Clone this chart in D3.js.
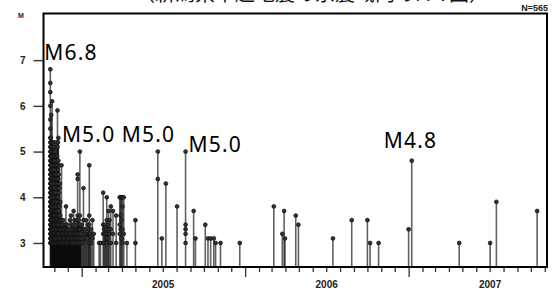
<!DOCTYPE html>
<html>
<head>
<meta charset="utf-8">
<script src="https://cdn.jsdelivr.net/npm/d3@7"></script>
<style>
  body { margin: 0; background: #fff; }
  svg { display: block; }
  .tick text { font-family: "Liberation Sans", Arial, sans-serif; font-weight: bold; }
</style>
</head>
<body>
<script>

// magnitude ticks on the left
var magTicks = [3, 4, 5, 6, 7];
var yearLabels = ["2005", "2006", "2007"];

// days with events (six per row, rows match eventMags below)
var eventDays = [
  "2004-10-23", "2004-10-24", "2004-10-25", "2004-10-26", "2004-10-27", "2004-10-28",
  "2004-10-29", "2004-10-30", "2004-10-31", "2004-11-01", "2004-11-02", "2004-11-03",
  "2004-11-04", "2004-11-05", "2004-11-06", "2004-11-07", "2004-11-08", "2004-11-09",
  "2004-11-10", "2004-11-11", "2004-11-12", "2004-11-13", "2004-11-14", "2004-11-15",
  "2004-11-16", "2004-11-17", "2004-11-18", "2004-11-19", "2004-11-20", "2004-11-21",
  "2004-11-22", "2004-11-23", "2004-11-24", "2004-11-25", "2004-11-26", "2004-11-27",
  "2004-11-28", "2004-11-29", "2004-11-30", "2004-12-01", "2004-12-02", "2004-12-03",
  "2004-12-04", "2004-12-05", "2004-12-06", "2004-12-07", "2004-12-08", "2004-12-09",
  "2004-12-10", "2004-12-11", "2004-12-12", "2004-12-13", "2004-12-14", "2004-12-15",
  "2004-12-16", "2004-12-17", "2004-12-18", "2004-12-19", "2004-12-20", "2004-12-21",
  "2004-12-22", "2004-12-23", "2004-12-24", "2004-12-25", "2004-12-26", "2004-12-27",
  "2004-12-28", "2004-12-29", "2004-12-30", "2005-01-01", "2005-01-03", "2005-01-05",
  "2005-01-07", "2005-01-09", "2005-01-11", "2005-01-13", "2005-01-15", "2005-01-17",
  "2005-01-18", "2005-01-20", "2005-01-22", "2005-01-25", "2005-01-28", "2005-02-09",
  "2005-02-12", "2005-02-18", "2005-02-20", "2005-02-22", "2005-02-24", "2005-02-26",
  "2005-02-28", "2005-03-02", "2005-03-04", "2005-03-07", "2005-03-12", "2005-03-19",
  "2005-03-27", "2005-03-29", "2005-03-31", "2005-04-02", "2005-04-05", "2005-04-12",
  "2005-05-01", "2005-06-20", "2005-06-29", "2005-07-08", "2005-08-02", "2005-08-21",
  "2005-09-08", "2005-09-12", "2005-10-04", "2005-10-10", "2005-10-16", "2005-10-23",
  "2005-10-27", "2005-11-07", "2005-12-20", "2006-03-06", "2006-03-25", "2006-03-29",
  "2006-03-31", "2006-04-24", "2006-04-30", "2006-07-16", "2006-08-27", "2006-10-01",
  "2006-10-07", "2006-10-26", "2007-01-01", "2007-01-08", "2007-04-24", "2007-07-02",
  "2007-07-16", "2007-10-15"
];

// magnitudes recorded on each of those days
var eventMags = [
  [6.8, 6.5, 6.3, 6.0, 5.7, 5.5, 5.3, 5.2, 5.1, 5.0, 4.9, 4.8, 4.7, 4.6, 4.5, 4.4, 4.3, 4.2, 4.1, 4.0, 3.9, 3.8, 3.7, 3.6, 3.5, 3.4, 3.3, 3.2, 3.1, 3.0],
  [5.3, 5.1, 4.9, 4.8, 4.6, 4.5, 4.3, 4.2, 4.1, 3.9, 3.8, 3.7, 3.5, 3.4, 3.3, 3.2, 3.1, 3.0],
  [5.8, 5.2, 5.0, 4.9, 4.7, 4.6, 4.4, 4.3, 4.1, 4.0, 3.9, 3.8, 3.6, 3.5, 3.4, 3.3, 3.2, 3.1, 3.0],
  [5.1, 5.0, 4.8, 4.6, 4.4, 4.2, 4.0, 3.9, 3.7, 3.6, 3.4, 3.3, 3.2, 3.1, 3.0],
  [6.1, 5.2, 4.9, 4.7, 4.5, 4.3, 4.2, 4.0, 3.8, 3.7, 3.5, 3.4, 3.2, 3.1, 3.0],
  [5.2, 5.0, 4.8, 4.5, 4.3, 4.1, 3.9, 3.8, 3.6, 3.5, 3.3, 3.2, 3.0],

  [5.1, 4.9, 4.6, 4.4, 4.1, 3.9, 3.7, 3.6, 3.4, 3.3, 3.1, 3.0],
  [5.2, 4.8, 4.5, 4.2, 4.0, 3.8, 3.6, 3.5, 3.3, 3.1, 3.0],
  [5.0, 4.7, 4.4, 4.1, 3.9, 3.7, 3.5, 3.4, 3.2, 3.0],
  [5.1, 4.8, 4.5, 4.2, 3.9, 3.7, 3.6, 3.4, 3.2, 3.1],
  [4.9, 4.6, 4.3, 4.0, 3.8, 3.6, 3.4, 3.3, 3.1, 3.0],
  [5.0, 4.7, 4.4, 4.1, 3.8, 3.5, 3.3, 3.2, 3.0],

  [5.2, 4.9, 4.5, 4.2, 3.9, 3.7, 3.5, 3.3, 3.1],
  [4.8, 4.5, 4.1, 3.8, 3.6, 3.4, 3.2, 3.0],
  [5.1, 4.7, 4.3, 4.0, 3.7, 3.5, 3.3, 3.1],
  [4.9, 4.4, 4.0, 3.7, 3.4, 3.2, 3.0],
  [5.9, 5.1, 4.7, 4.3, 3.9, 3.6, 3.4, 3.2, 3.0],
  [5.2, 4.6, 4.2, 3.8, 3.5, 3.3, 3.1],

  [5.3, 4.8, 4.4, 4.0, 3.6, 3.4, 3.2, 3.0],
  [4.5, 4.1, 3.7, 3.4, 3.2, 3.0],
  [4.7, 4.2, 3.8, 3.5, 3.3, 3.1],
  [4.3, 3.9, 3.6, 3.3, 3.0],
  [3.9, 3.6, 3.3, 3.1],
  [3.5, 3.3, 3.0],

  [3.4, 3.2, 3.0], [4.7, 3.5, 3.2, 3.0], [3.3, 3.1], [3.4, 3.2, 3.0], [3.2, 3.0], [3.5, 3.3, 3.1],
  [3.3, 3.0], [3.1], [3.4, 3.2], [3.2, 3.0], [3.3, 3.1], [3.8, 3.4, 3.2, 3.0],
  [3.3, 3.1], [3.2, 3.0], [3.4, 3.1], [3.3, 3.0], [3.2], [3.3, 3.1],
  [3.1], [3.2, 3.0], [3.5, 3.2, 3.0], [3.3, 3.0], [3.6, 3.1], [3.2, 3.0],
  [3.4, 3.1], [3.0], [3.3, 3.1], [3.2], [3.7, 3.4, 3.2, 3.0], [3.3, 3.1],
  [3.5, 3.2], [3.2, 3.0], [3.3], [3.1], [3.5, 3.3, 3.1], [3.2, 3.0],
  [3.4, 3.1], [4.5, 4.4, 3.6, 3.3, 3.0], [3.2], [3.5, 3.3, 3.1], [3.0], [3.4, 3.2],
  [5.0, 3.6, 3.3, 3.1], [3.3, 3.0], [3.2], [3.4, 3.1], [3.3, 3.0], [4.2, 3.5, 3.3, 3.0],
  [3.2], [3.3, 3.1], [3.5, 3.2], [3.1], [3.4, 3.2], [3.3],
  [4.7, 3.6, 3.4, 3.2, 3.0], [3.2], [3.3, 3.0], [3.5, 3.1], [3.2], [3.0],
  [3.0], [4.1, 3.4, 3.2, 3.0], [3.3, 3.0], [3.4, 3.2], [3.3, 3.1], [4.0, 3.5, 3.2, 3.0],
  [3.4, 3.1], [3.7, 3.3], [3.5, 3.2], [3.8, 3.3, 3.0], [3.7, 3.2], [3.6, 3.0],
  [4.0, 3.4, 3.2], [4.0, 3.6, 3.3], [4.0, 3.5, 3.1], [4.0, 3.8, 3.3, 3.0], [4.0, 3.2], [3.0],
  [3.5, 3.0], [5.0, 4.4], [3.1], [4.3], [3.8], [5.0, 3.4, 3.3, 3.2, 3.0],
  [3.7], [3.1], [3.4], [3.1], [3.1], [3.1],
  [3.0], [3.0], [3.0], [3.8], [3.2], [3.7],
  [3.1], [3.6], [3.4], [3.1], [3.5], [3.5],
  [3.0], [3.0], [3.3], [4.8], [3.0], [3.0],
  [3.9], [3.7]
];

// labelled events: text, day, magnitude, and a nudge for the label
var noteText = ["M6.8", "M5.0", "M5.0", "M5.0", "M4.8"];
var noteDays = ["2004-10-23", "2004-12-28", "2005-06-20", "2005-08-21", "2007-01-08"];
var noteMags = [6.8, 5.0, 5.0, 5.0, 4.8];
var noteNudge = [[-6, -9], [-18, -10], [-36, -10], [3, 0], [-28, -13]];

var totalCount = "N=565";
var title = "（新潟県中越地震の余震域内のM-T図）";

var width = 554,
    height = 289;

var parseDay = d3.timeParse("%Y-%m-%d");

var svg = d3.select("body").append("svg")
    .attr("width", width)
    .attr("height", height);

var x = d3.scaleTime()
    .domain([parseDay("2004-10-08"), parseDay("2007-11-06")])
    .range([43.6, 547]);

var y = d3.scaleLinear()
    .domain([2.475, 8.02])
    .range([267, 13.5]);

var days = eventDays.map(function(d, i) {
  return { date: parseDay(d), mags: eventMags[i] || [] };
}).filter(function(d) { return d.mags.length > 0; });

// stems, one per day, up to that day's largest event
svg.append("g")
  .selectAll("line")
  .data(days)
  .enter()
  .append("line")
  .attr("x1", function(d) { return x(d.date); })
  .attr("x2", function(d) { return x(d.date); })
  .attr("y1", y(2.475))
  .attr("y2", function(d) { return y(d3.max(d.mags)); })
  .attr("stroke", "#000")
  .attr("stroke-opacity", 0.62)
  .attr("stroke-width", 1.6);

// a small bead for every event
var beads = [];
days.forEach(function(d) {
  d.mags.forEach(function(m) { beads.push({ date: d.date, mag: m }); });
});

svg.append("g")
  .selectAll("circle")
  .data(beads)
  .enter()
  .append("circle")
  .attr("cx", function(d) { return x(d.date); })
  .attr("cy", function(d) { return y(d.mag); })
  .attr("r", 1.9)
  .attr("fill", "#333")
  .attr("stroke", "#111")
  .attr("stroke-width", 0.8);

// left axis
var yAxis = d3.axisLeft(y)
    .tickValues(magTicks)
    .tickSize(10)
    .tickPadding(8)
    .tickFormat(d3.format("d"));

var yg = svg.append("g")
    .attr("transform", "translate(43.5,0)")
    .call(yAxis);
yg.select(".domain").remove();
yg.selectAll("line").attr("stroke", "#333").attr("stroke-width", 1.4);
yg.selectAll("text").attr("font-size", 10).attr("fill", "#222");

// bottom axis: month ticks and longer year ticks
var months = d3.timeMonth.range(parseDay("2004-11-01"), parseDay("2007-11-06"))
    .filter(function(d) { return d.getMonth() != 0; });
var years = d3.timeYear.range(parseDay("2005-01-01"), parseDay("2007-11-06"));

var xMinor = svg.append("g")
    .attr("transform", "translate(0,267)")
    .call(d3.axisBottom(x).tickValues(months).tickSize(5).tickFormat(""));
var xMajor = svg.append("g")
    .attr("transform", "translate(0,267)")
    .call(d3.axisBottom(x).tickValues(years).tickSize(10).tickFormat(""));
svg.selectAll(".domain").remove();
xMinor.selectAll("line").attr("stroke", "#333").attr("stroke-width", 1.3);
xMajor.selectAll("line").attr("stroke", "#333").attr("stroke-width", 1.3);

svg.append("g")
  .selectAll("text")
  .data(yearLabels)
  .enter()
  .append("text")
  .attr("x", function(d) { return x(parseDay(d + "-07-02")); })
  .attr("y", 288)
  .attr("text-anchor", "middle")
  .attr("font-family", "Liberation Sans, Arial, sans-serif")
  .attr("font-weight", "bold")
  .attr("font-size", 10)
  .attr("fill", "#222")
  .text(function(d) { return d; });

// frame
svg.append("rect")
  .attr("x", 43.5)
  .attr("y", 13.5)
  .attr("width", 547 - 43.5)
  .attr("height", 267 - 13.5)
  .attr("fill", "none")
  .attr("stroke", "#000")
  .attr("stroke-width", 2);

// "M" unit, count and title (the title runs off the top, as in the source)
svg.append("text")
  .attr("x", 21).attr("y", 18)
  .attr("text-anchor", "middle")
  .attr("font-family", "Liberation Sans, Arial, sans-serif")
  .attr("font-weight", "bold")
  .attr("font-size", 7)
  .attr("fill", "#222")
  .text("M");

svg.append("text")
  .attr("x", 548).attr("y", 11)
  .attr("text-anchor", "end")
  .attr("font-family", "Liberation Sans, Arial, sans-serif")
  .attr("font-weight", "bold")
  .attr("font-size", 9)
  .attr("fill", "#222")
  .text(totalCount);

svg.append("text")
  .attr("x", 312).attr("y", 1)
  .attr("text-anchor", "middle")
  .attr("font-family", "Noto Sans CJK JP")
  .attr("font-size", 20)
  .attr("fill", "#111")
  .text(title);

// magnitude notes
svg.append("g")
  .selectAll("text")
  .data(noteText)
  .enter()
  .append("text")
  .attr("x", function(d, i) { return x(parseDay(noteDays[i])) + noteNudge[i][0]; })
  .attr("y", function(d, i) { return y(noteMags[i]) + noteNudge[i][1]; })
  .attr("font-family", "Noto Sans, sans-serif")
  .attr("font-size", 21)
  .attr("letter-spacing", 1.2)
  .attr("fill", "#000")
  .text(function(d) { return d; });

</script>
</body>
</html>
